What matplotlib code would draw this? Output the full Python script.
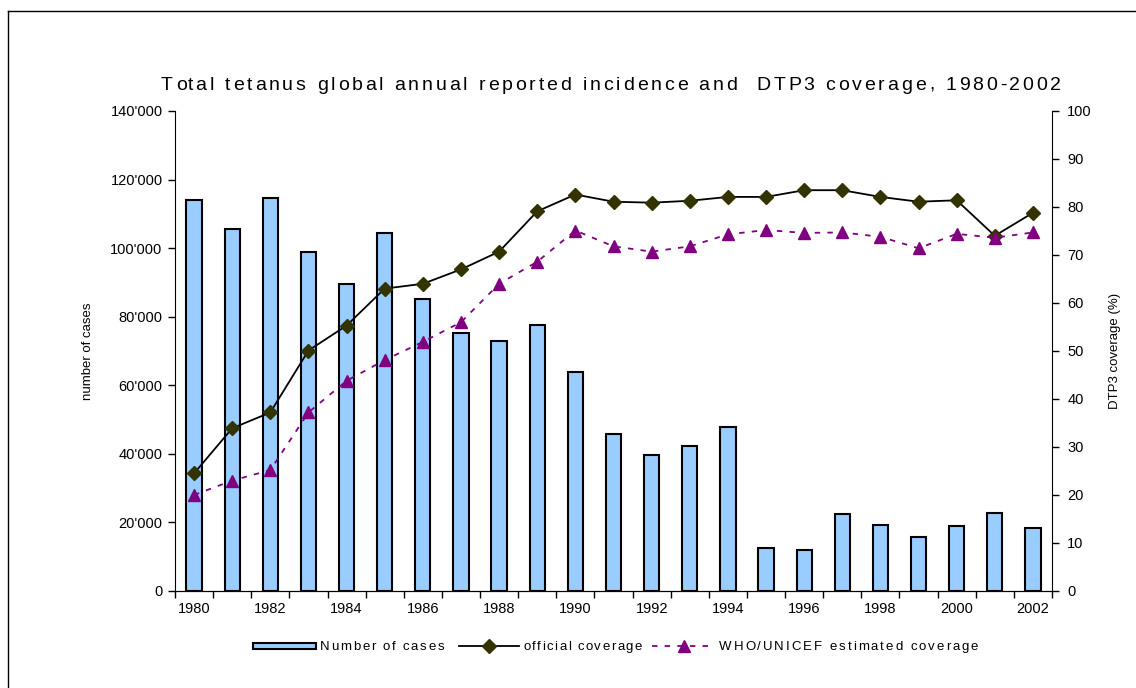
import numpy as np
import matplotlib
matplotlib.use("Agg")
import matplotlib.pyplot as plt
from matplotlib.ticker import FuncFormatter
from matplotlib.lines import Line2D
from matplotlib.patches import Rectangle
from matplotlib.font_manager import FontProperties

plt.rcParams['font.family'] = ['Liberation Sans', 'DejaVu Sans']

# data
years = list(range(1980, 2003))
cases = [113900, 105500, 114500, 99000, 89500, 104500, 85300, 75300, 72900, 77700,
         64000, 45900, 39800, 42300, 47900, 12500, 12100, 22500, 19200, 15700,
         18900, 22700, 18500]
official = [24.5, 33.9, 37.2, 50.1, 55.3, 63.0, 64.0, 67.0, 70.7, 79.1,
            82.6, 81.1, 80.9, 81.3, 82.1, 82.1, 83.5, 83.5, 82.1, 81.1,
            81.4, 74.0, 78.8]
who_unicef = [20.0, 23.0, 25.2, 37.2, 43.8, 48.1, 51.9, 56.0, 64.0, 68.6,
              75.1, 71.8, 70.7, 71.8, 74.3, 75.2, 74.6, 74.7, 73.8, 71.4,
              74.4, 73.6, 74.7]
title = 'Total tetanus global annual reported incidence and  DTP3 coverage, 1980-2002'
legend_labels = ['Number of cases', 'official coverage', 'WHO/UNICEF estimated coverage']

W, H = 1136, 688
BAR_COLOR = '#99CCFF'
DIAMOND = '#333300'
PURPLE = '#800080'


def fx(px):
    return px / W


def fy(py):
    return 1 - py / H


x = np.arange(len(years))

fig = plt.figure(figsize=(W / 100, H / 100), dpi=100)
renderer = fig.canvas.get_renderer()


def text_w(s, fp):
    w, h, d = renderer.get_text_width_height_descent(s, fp, ismath=False)
    return w


# Excel-like letter spaced text: place each glyph by hand
def spaced_text(x0, baseline, s, size, width):
    fp = FontProperties(family='Liberation Sans', size=size)
    ref = text_w('X', fp)
    offsets = [text_w(s[:i] + 'X', fp) - ref for i in range(len(s))]
    gap = (width - text_w(s, fp)) / (len(s) - 1)
    for i, c in enumerate(s):
        if c != ' ':
            fig.text(fx(x0 + offsets[i] + i * gap), fy(baseline), c, fontproperties=fp,
                     ha='left', va='baseline')


ax = fig.add_axes([fx(175), fy(591), (1052 - 175) / W, (591 - 111) / H])
ax2 = ax.twinx()

ax.bar(x, cases, width=0.4, color=BAR_COLOR, edgecolor='black', linewidth=1.5)
ax2.plot(x, official, color='black', linewidth=1.3, marker='D', markersize=7,
         markerfacecolor=DIAMOND, markeredgecolor=DIAMOND)
ax2.plot(x, who_unicef, color=PURPLE, linewidth=1.3, linestyle=(0, (3, 4)),
         marker='^', markersize=9, markerfacecolor=PURPLE, markeredgecolor=PURPLE)

ax.set_xlim(-0.5, len(years) - 0.5)
ax.set_ylim(0, 140000)
ax2.set_ylim(0, 100)
ax.set_yticks(np.arange(0, 140001, 20000))
ax2.set_yticks(np.arange(0, 101, 10))
ax.yaxis.set_major_formatter(FuncFormatter(lambda v, p: '0' if v == 0 else f"{int(v):,}".replace(',', "'")))

# ticks between categories, labels on even years
ax.set_xticks(np.arange(-0.5, len(years), 1))
ax.set_xticklabels([])
ax.set_xticks(x[::2], minor=True)
ax.set_xticklabels([str(y) for y in years[::2]], minor=True)
ax.tick_params(axis='x', which='major', length=5, direction='out', width=1)
ax.tick_params(axis='x', which='minor', length=0, pad=8, labelsize=10.5)
ax.tick_params(axis='y', length=5, width=1, labelsize=10.5, pad=4)
ax2.tick_params(axis='y', length=5, width=1, labelsize=10.5, pad=6)

for a in (ax, ax2):
    a.spines['top'].set_visible(False)
ax.spines['right'].set_visible(False)
ax2.spines['left'].set_visible(False)

ax.set_ylabel('number of cases', fontsize=9.5, labelpad=12)
ax2.set_ylabel('DTP3 coverage (%)', fontsize=9.5, labelpad=12)

spaced_text(161, 90, title, 14, 900)

# hand-built legend (Excel style with spaced text)
fig.add_artist(Rectangle((fx(253), fy(649)), 63 / W, 6 / H, transform=fig.transFigure,
                         facecolor=BAR_COLOR, edgecolor='black', linewidth=1.5))
spaced_text(320, 650, legend_labels[0], 9.5, 124)
fig.add_artist(Line2D([fx(459), fx(519)], [fy(646), fy(646)], color='black', linewidth=1.3))
fig.add_artist(Line2D([fx(489)], [fy(646)], marker='D', markersize=7, linestyle='none',
                      markerfacecolor=DIAMOND, markeredgecolor=DIAMOND))
spaced_text(523, 650, legend_labels[1], 9.5, 119)
fig.add_artist(Line2D([fx(652), fx(715)], [fy(646), fy(646)], color=PURPLE, linewidth=1.3,
                      linestyle=(0, (3, 4))))
fig.add_artist(Line2D([fx(684)], [fy(646)], marker='^', markersize=9, linestyle='none',
                      markerfacecolor=PURPLE, markeredgecolor=PURPLE))
spaced_text(719, 650, legend_labels[2], 9.5, 259)

# outer frame (top and left edges visible in the reference)
fig.add_artist(Line2D([fx(8), 1], [fy(11), fy(11)], color='black', linewidth=1))
fig.add_artist(Line2D([fx(8), fx(8)], [0, fy(11)], color='black', linewidth=1))

fig.savefig('out.png', dpi=100)
